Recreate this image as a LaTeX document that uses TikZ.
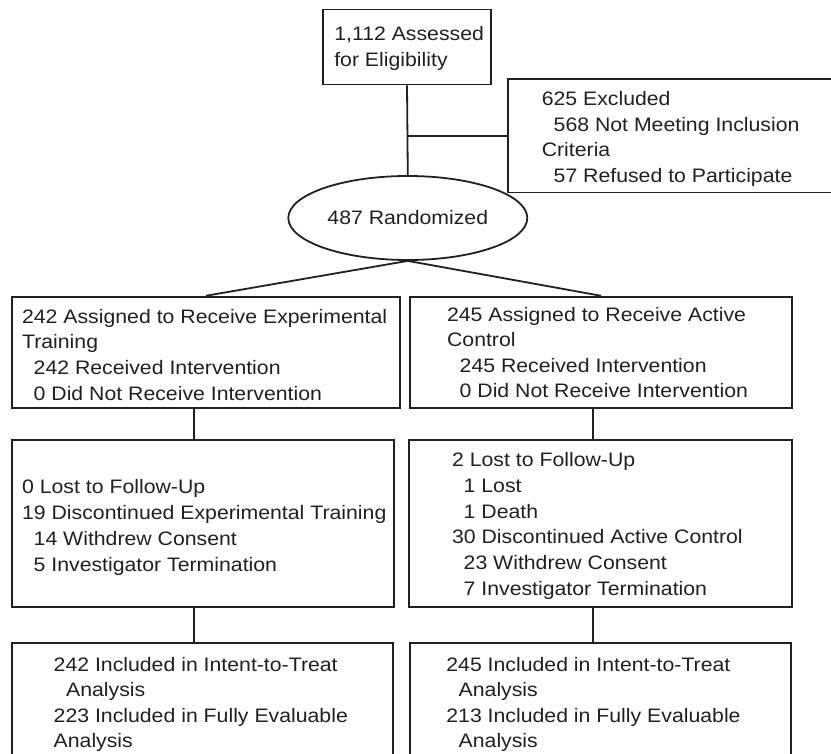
\documentclass[tikz,border=0pt]{standalone}
\usepackage{fontspec}
\setmainfont{Liberation Sans}[FakeStretch=1.09]
\usetikzlibrary{fit,shapes.geometric}
\definecolor{ink}{HTML}{231F20}
\begin{document}
\begin{tikzpicture}[x=0.5pt,y=-0.5pt,
  box/.style={draw=ink,line width=0.9pt,inner sep=0pt,rectangle},
  txt/.style={anchor=base west,inner sep=0pt,text=ink,font=\fontsize{9.75pt}{12.85pt}\selectfont},
  conn/.style={draw=ink,line width=0.9pt}]
\useasboundingbox (0,0) rectangle (831,754);
\clip (0,0) rectangle (831,754);
% boxes
\node[box,fit={(323,9.5) (491,84.5)}] (top) {};
\node[box,fit={(508,79) (900,192.5)}] (excl) {};
\node[draw=ink,line width=0.9pt,ellipse,inner sep=0pt,minimum width=119.5pt,minimum height=42pt,text=ink,font=\fontsize{9.75pt}{12.85pt}\selectfont] (ell) at (407.8,218) {487 Randomized};
\node[box,fit={(11.7,296.7) (400,407.7)}] (a1) {};
\node[box,fit={(410,296.7) (792.3,407.7)}] (b1) {};
\node[box,fit={(11.7,440) (394,607.3)}] (a2) {};
\node[box,fit={(409.3,440) (792.3,607.3)}] (b2) {};
\node[box,fit={(11.7,643.3) (393.3,800)}] (a3) {};
\node[box,fit={(410,643.3) (791,800)}] (b3) {};
\coordinate (lx) at (194.3,0);
\coordinate (rx) at (592.7,0);
% connectors
\draw[conn] (top.south) -- (ell.north);
\draw[conn] (excl.west) -- (excl.west -| top.south);
\draw[conn] (ell.south) -- (a1.north);
\draw[conn] (ell.south) -- (b1.north);
\draw[conn] (a1.south -| lx) -- (a2.north -| lx);
\draw[conn] (a2.south -| lx) -- (a3.north -| lx);
\draw[conn] (b1.south -| rx) -- (b2.north -| rx);
\draw[conn] (b2.south -| rx) -- (b3.north -| rx);
% texts
\node[txt] (t1) at (333.9,40.7) {1,112 Assessed};
\node[txt] (t2) at (333.9,66.3) {for Eligibility};
\node[txt] (e1) at (541.4,106) {625 Excluded};
\node[txt] (e2) at (553.3,131.7) {568 Not Meeting Inclusion};
\node[txt] (e3) at (541.4,156.7) {Criteria};
\node[txt] (e4) at (553.3,182.7) {57 Refused to Participate};
\node[txt] (a11) at (21.7,323.3) {242 Assigned to Receive Experimental};
\node[txt] (a12) at (21.7,349) {Training};
\node[txt] (a13) at (33.3,375) {242 Received Intervention};
\node[txt] (a14) at (33.3,400.5) {0 Did Not Receive Intervention};
\node[txt] (b11) at (446.7,321.7) {245 Assigned to Receive Active};
\node[txt] (b12) at (446.7,347) {Control};
\node[txt] (b13) at (459.3,372.7) {245 Received Intervention};
\node[txt] (b14) at (459.3,398) {0 Did Not Receive Intervention};
\node[txt] (a21) at (21.7,494) {0 Lost to Follow-Up};
\node[txt] (a22) at (21.7,520) {19 Discontinued Experimental Training};
\node[txt] (a23) at (33.3,545.5) {14 Withdrew Consent};
\node[txt] (a24) at (33.3,571) {5 Investigator Termination};
\node[txt] (b21) at (451.7,466.5) {2 Lost to Follow-Up};
\node[txt] (b22) at (463.3,492.3) {1 Lost};
\node[txt] (b23) at (463.3,518) {1 Death};
\node[txt] (b24) at (451.7,543.7) {30 Discontinued Active Control};
\node[txt] (b25) at (463.3,569.3) {23 Withdrew Consent};
\node[txt] (b26) at (463.3,595.2) {7 Investigator Termination};
\node[txt] (a31) at (53.3,671) {242 Included in Intent-to-Treat};
\node[txt] (a32) at (65.7,696.7) {Analysis};
\node[txt] (a33) at (53.3,722) {223 Included in Fully Evaluable};
\node[txt] (a34) at (53.3,747.5) {Analysis};
\node[txt] (b31) at (446,671) {245 Included in Intent-to-Treat};
\node[txt] (b32) at (458.3,696.7) {Analysis};
\node[txt] (b33) at (446,722) {213 Included in Fully Evaluable};
\node[txt] (b34) at (458.3,747.5) {Analysis};
\end{tikzpicture}
\end{document}
